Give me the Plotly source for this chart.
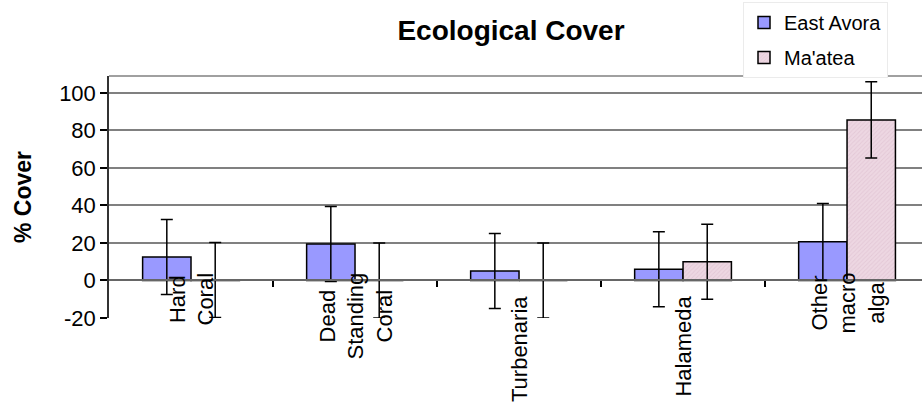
import plotly.graph_objects as go

categories = ["Hard Coral", "Dead Standing Coral", "Turbenaria", "Halameda", "Other macro alga"]
category_labels = ["Hard<br>Coral", "Dead<br>Standing<br>Coral", "Turbenaria", "Halameda", "Other<br>macro<br>alga"]
east_avora = [12.5, 19.5, 5, 6, 20.7]
east_avora_err = [20, 20, 20, 20, 20.3]
maatea = [0.3, 0, 0, 10, 85.6]
maatea_err = [20, 20, 20, 20, 20.3]
y_ticks = [-20, 0, 20, 40, 60, 80, 100]
y_tick_labels = [str(v) for v in y_ticks]

x_idx = list(range(len(categories)))
Y_MIN, Y_MAX = -20, 109
PLOT_H = 242

fig = go.Figure()
fig.add_trace(go.Bar(
    name="East Avora", x=x_idx, y=east_avora, legendgroup="a",
    marker=dict(color="#9999FF", line=dict(color="black", width=1.5)),
    error_y=dict(type="data", array=east_avora_err, visible=True,
                 color="black", thickness=1.5, width=6),
))
fig.add_trace(go.Bar(
    name="Ma'atea", x=x_idx, y=maatea, legendgroup="b",
    marker=dict(color="#EDD7E2", line=dict(color="black", width=1.5),
                pattern=dict(shape="/", size=3, fgcolor="#D9B9CA", solidity=0.3)),
    error_y=dict(type="data", array=maatea_err, visible=True,
                 color="black", thickness=1.5, width=6),
))

annotations = []
for i, lab in enumerate(category_labels):
    multi = "<br>" in lab
    off = 46 if multi else 23
    annotations.append(dict(
        x=i, xref="x", y=off / PLOT_H, yref="paper", text=lab, textangle=-90,
        showarrow=False, xanchor="center", yanchor="top", align="center",
        font=dict(family="Liberation Sans, Arial", size=22, color="black"),
        borderpad=0,
    ))

fig.update_layout(
    width=922, height=409,
    margin=dict(l=109, r=0, t=76, b=91),
    paper_bgcolor="white", plot_bgcolor="white",
    font=dict(family="Liberation Sans, Arial", size=21, color="black"),
    title=dict(text="<b>Ecological Cover</b>", x=511 / 922, xanchor="center",
               y=1 - 30 / 409, yanchor="middle",
               font=dict(size=28, color="black")),
    barmode="group", bargap=0.41, bargroupgap=0,
    showlegend=True,
    legend=dict(x=(743 - 109) / 813, xanchor="left", y=1 + (76 - 2) / PLOT_H, yanchor="top",
                bgcolor="white", bordercolor="#EBEBEB", borderwidth=1,
                font=dict(size=20, color="black"), tracegroupgap=6,
                traceorder="grouped"),
    annotations=annotations,
    shapes=[dict(type="line", xref="paper", yref="paper", x0=0, x1=1, y0=1, y1=1,
                 line=dict(color="#808080", width=1.5), layer="below")],
)
fig.update_xaxes(
    range=[-0.5, 4.457], anchor="free", position=20 / (Y_MAX - Y_MIN),
    showline=True, linecolor="#666666", linewidth=1.5,
    tickmode="array", tickvals=[0.5, 1.5, 2.5, 3.5], ticks="outside",
    ticklen=6, tickcolor="black", tickwidth=1.5,
    showticklabels=False, showgrid=False, zeroline=False, fixedrange=True,
)
fig.update_yaxes(
    range=[Y_MIN, Y_MAX], tickmode="array", tickvals=y_ticks, ticktext=y_tick_labels,
    ticks="outside", ticklen=7, tickcolor="black", tickwidth=1.5,
    showline=True, linecolor="#333333", linewidth=1.5,
    showgrid=True, gridcolor="#808080", gridwidth=1.5, zeroline=False,
    tickfont=dict(size=22, color="black"),
    title=dict(text="<b>% Cover</b>", font=dict(size=23, color="black"), standoff=21),
)

fig.write_html("out.html", post_script="document.body.style.margin='0';",
               config={"displayModeBar": False})
